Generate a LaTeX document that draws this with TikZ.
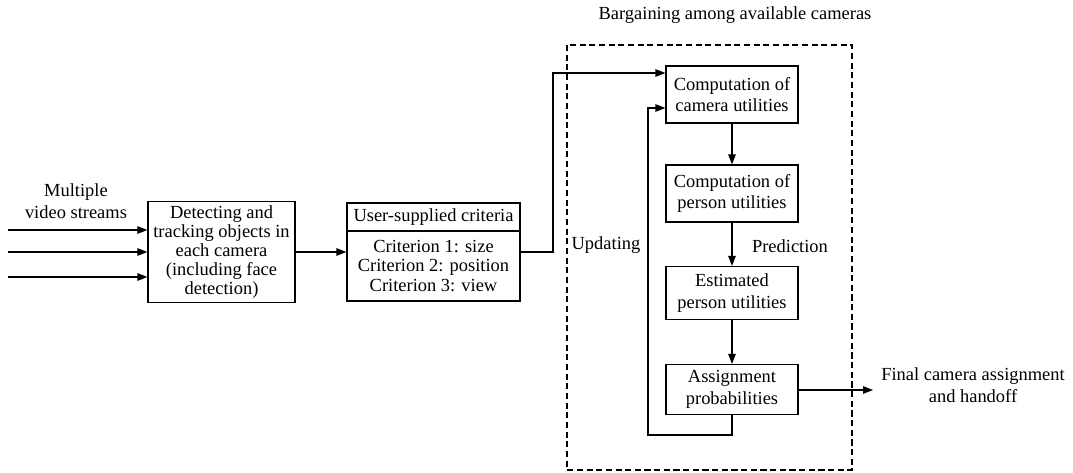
\documentclass[tikz,border=0pt]{standalone}
\usepackage{fontspec}
\setmainfont{Liberation Serif}
\usetikzlibrary{arrows.meta,positioning}
\begin{document}
\begin{tikzpicture}[x=0.02cm,y=-0.02cm,line width=0.7pt,
        box/.style={draw,align=center,inner sep=2pt,minimum width=2.64cm,font=\fontsize{10.5}{12.3}\selectfont},
        arrow/.style={-{Triangle[length=2mm,width=1.5mm]}},
        lbl/.style={align=center,font=\fontsize{10.5}{12.3}\selectfont}]
        \useasboundingbox (0,0) rectangle (1073,473);
        % left part
        \node[lbl] (streams) at (76,201) {Multiple\\video streams};
        \node[box,minimum width=2.94cm,minimum height=1.96cm,font=\fontsize{10.5}{10.9}\selectfont] (detect) at (221.5,252)
            {Detecting and\\tracking objects in\\each camera\\(including face\\detection)};
        \coordinate (in0) at (8,230);
        \coordinate (in1) at (8,252);
        \coordinate (in2) at (8,277);
        \foreach \i in {0,1,2}
            \draw[arrow] (in\i) -- (in\i -| detect.west);
        \node[box,minimum width=3.46cm,minimum height=0.56cm] (crithead) at (433.5,217) {User-supplied criteria};
        \node[box,minimum width=3.46cm,minimum height=1.4cm,font=\fontsize{10.5}{11.2}\selectfont] (critbody) at (433.5,266)
            {Criterion 1: size\\Criterion 2: position\\Criterion 3: view};
        \draw[arrow] (detect.east) -- (detect.east -| critbody.west);
        % bargaining
        \draw[dashed,dash pattern=on 3.5pt off 2pt] (567,45) rectangle (852,470);
        \node[lbl] (title) at (735,15) {Bargaining among available cameras};
        \node[box,minimum height=1.14cm] (camutil) at (732,94.5) {Computation of\\camera utilities};
        \node[box,minimum height=1.14cm] (persutil) at (732,193.5) {Computation of\\person utilities};
        \node[box,minimum height=1.06cm] (estim) at (732,293) {Estimated\\person utilities};
        \node[box,minimum height=1.0cm] (assign) at (732,389.5) {Assignment\\probabilities};
        \coordinate (turn) at (553,73);
        \draw[arrow] (critbody.east |- detect.east) -| (turn) -- (turn -| camutil.west);
        \draw[arrow] (camutil) -- (persutil);
        \draw[arrow] (persutil) -- (estim);
        \draw[arrow] (estim) -- (assign);
        \node[lbl] (predict) at (790,246) {Prediction};
        % updating loop
        \coordinate (loopbot) at (648,435);
        \coordinate (looptop) at (648,108);
        \draw[arrow] (assign.south) |- (loopbot) -- (looptop) -- (looptop -| camutil.west);
        \node[lbl] (update) at (606,245) {Updating};
        % output
        \coordinate (out) at (873,390);
        \draw[arrow] (assign.east |- out) -- (out);
        \node[lbl] (final) at (973,385) {Final camera assignment\\and handoff};
    \end{tikzpicture}
\end{document}
